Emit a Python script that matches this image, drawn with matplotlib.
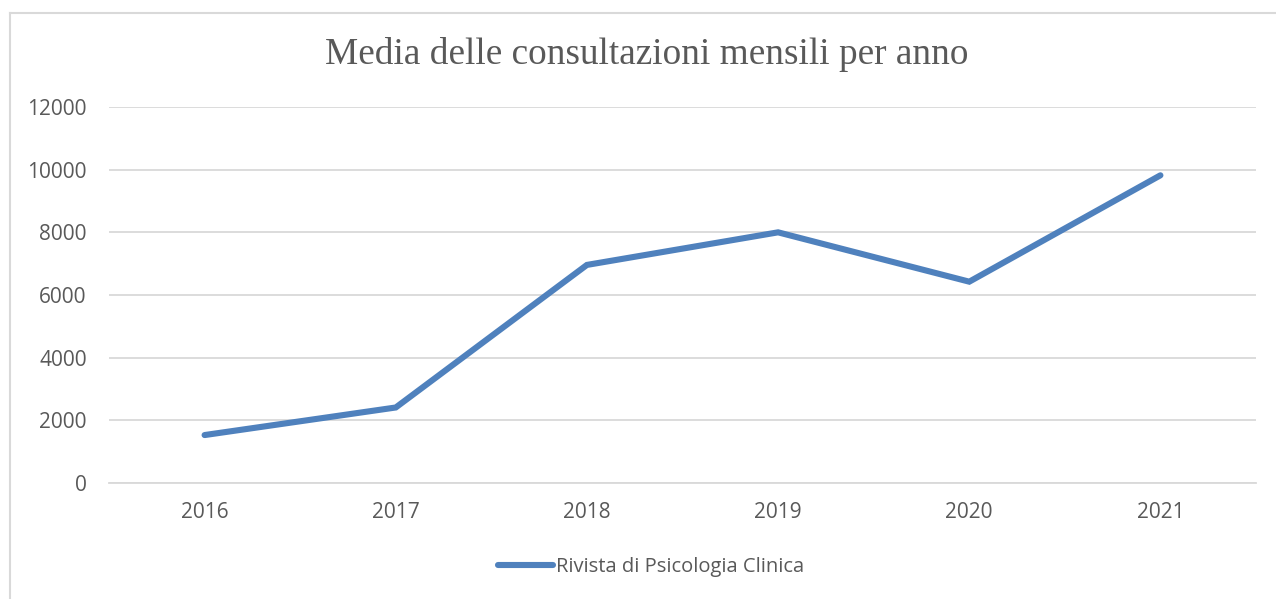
import matplotlib
matplotlib.use("Agg")
import matplotlib.pyplot as plt
from matplotlib.lines import Line2D

# data
anni = ["2016", "2017", "2018", "2019", "2020", "2021"]
consultazioni = [1530, 2410, 6960, 8000, 6425, 9820]
serie = "Rivista di Psicologia Clinica"
titolo = "Media delle consultazioni mensili per anno"
yticks = [0, 2000, 4000, 6000, 8000, 10000, 12000]

blu = "#4F81BD"
grigio_testo = "#595959"
grigio_griglia = "#D9D9D9"

W, H = 1276, 599
fig = plt.figure(figsize=(W / 100, H / 100), dpi=100)
ax = fig.add_axes([109 / W, 1 - 483 / H, (1256 - 109) / W, (483 - 107) / H])

x = range(len(anni))
ax.plot(x, consultazioni, color=blu, lw=4.4, solid_capstyle="round",
        solid_joinstyle="miter")

ax.set_xlim(-0.5, len(anni) - 0.5)
ax.set_ylim(0, 12000)
ax.set_yticks(yticks)
ax.set_yticklabels([str(v) for v in yticks])
ax.set_xticks(list(x))
ax.set_xticklabels(anni)
ax.grid(axis="y", color=grigio_griglia, lw=1.3)
ax.set_axisbelow(True)
for s in ["top", "right", "left"]:
    ax.spines[s].set_visible(False)
ax.spines["bottom"].set_color(grigio_griglia)
ax.spines["bottom"].set_linewidth(1.3)
ax.tick_params(length=0, labelcolor=grigio_testo, labelsize=15)
ax.tick_params(axis="y", pad=16)
ax.tick_params(axis="x", pad=14)
for lab in ax.get_xticklabels() + ax.get_yticklabels():
    lab.set_family("Open Sans")

fig.text(647 / W, 1 - 55 / H, titolo, ha="center", va="center",
         family="Liberation Serif", fontsize=26.8, color=grigio_testo)

# legend at the bottom
handle = Line2D([0], [0], color=blu, lw=4.4, solid_capstyle="round")
fig.legend([handle], [serie], loc="center", bbox_to_anchor=(651 / W, 1 - 567 / H),
           frameon=False, handlelength=2.7, handletextpad=0.15,
           prop={"family": "Open Sans", "size": 14.5}, labelcolor=grigio_testo)

# chart frame (only left and top edges visible in the crop)
fig.add_artist(Line2D([9.5 / W, 9.5 / W], [0, 1 - 13 / H], color=grigio_griglia,
                      lw=1.5, transform=fig.transFigure))
fig.add_artist(Line2D([9.5 / W, 1], [1 - 13 / H, 1 - 13 / H], color=grigio_griglia,
                      lw=1.5, transform=fig.transFigure))

fig.savefig("out.png", dpi=100)
